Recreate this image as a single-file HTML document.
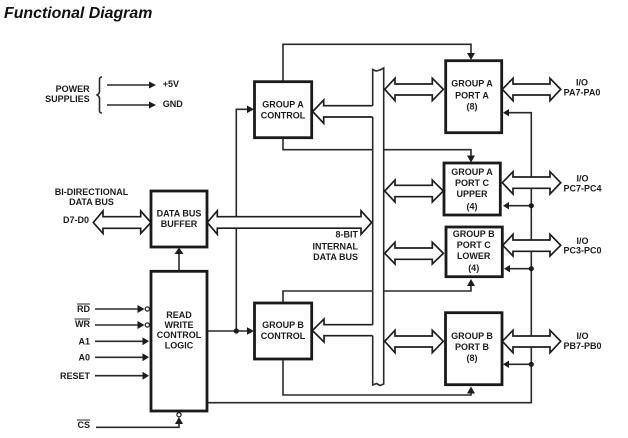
<!DOCTYPE html>
<html>
<head>
<meta charset="utf-8">
<title>Functional Diagram</title>
<style>
html,body{margin:0;padding:0;background:#fff;width:628px;height:438px;overflow:hidden}
svg{display:block}
text{font-family:"Liberation Sans",Arial,sans-serif;font-weight:bold;font-size:9px;fill:#1c1c1c}
.m{text-anchor:middle}
.e{text-anchor:end}
.t{font-size:15.9px;font-style:italic;fill:#111}
.l{fill:none;stroke:#2a2a2a;stroke-width:1.6}
.o{fill:none;stroke:#2a2a2a;stroke-width:1}
.b{fill:#fff;stroke:#1a1a1a;stroke-width:2.8}
.a{fill:#fff;stroke:#1e1e1e;stroke-width:1.7;stroke-linejoin:miter}
.h{fill:#1c1c1c}
.c{fill:#fff;stroke:#1c1c1c;stroke-width:1.2}
</style>
</head>
<body>
<svg width="628" height="438" viewBox="0 0 628 438" xmlns="http://www.w3.org/2000/svg">
<text class="t" x="4" y="18">Functional Diagram</text>

<!-- connector lines -->
<path class="l" d="M283 81V44.3H471V55"/>
<path class="l" d="M283 138V149.7H471V157"/>
<path class="l" d="M283 303V291H471V284"/>
<path class="l" d="M283 359V395H471V392"/>
<path class="l" d="M248 109.3H236.3V331"/>
<path class="l" d="M207 331H248"/>
<path class="l" d="M207 402.7H531.3V112.7H508"/>
<path class="l" d="M531.3 205.7H508M531.3 268.7H508M531.3 364.3H508"/>
<path class="l" d="M179 271V252"/>
<path class="l" d="M107 85H150M107 105H150"/>
<path class="l" d="M95 309H139M95 325H139M95 341.3H143M95 357.3H143M95 375.7H143"/>
<path class="l" d="M96 427.3H179V423"/>
<path class="l" d="M102 77C99 77 99.5 79 99.5 84V91C99.5 93.5 98.5 94.5 96.5 95C98.5 95.5 99.5 96.5 99.5 99V107C99.5 111 99 113 102 113"/>

<!-- arrowheads -->
<path class="h" d="M156 85L149 81.5V88.5Z"/>
<path class="h" d="M156 105L149 101.5V108.5Z"/>
<path class="h" d="M144.500 309L137.500 305V313Z"/>
<path class="h" d="M144.500 325L137.500 321V329Z"/>
<path class="h" d="M149 341.3L142.500 337.3V345.3Z"/>
<path class="h" d="M149 357.3L142.500 353.3V361.3Z"/>
<path class="h" d="M149 375.7L142.500 371.7V379.7Z"/>
<path class="h" d="M179 417L175 424H183Z"/>
<path class="h" d="M179 247.500L174.500 254H183.500Z"/>
<path class="h" d="M254 109.3L247 105.5V113.1Z"/>
<path class="h" d="M254 331L247 327.2V334.8Z"/>
<path class="h" d="M471 60L467 53H475Z"/>
<path class="h" d="M471 162.500L467 155.500H475Z"/>
<path class="h" d="M471 279L467 286H475Z"/>
<path class="h" d="M471 386.500L467 393.500H475Z"/>
<path class="h" d="M503 112.7L509 109V116.400Z"/>
<path class="h" d="M503 205.7L509 202V209.400Z"/>
<path class="h" d="M504 268.7L510 265V272.400Z"/>
<path class="h" d="M503 364.3L509 360.600V368Z"/>
<circle class="h" cx="236.3" cy="331" r="2.600"/>
<circle class="h" cx="531.3" cy="205.7" r="2.600"/>
<circle class="h" cx="531.3" cy="268.7" r="2.600"/>
<circle class="h" cx="531.3" cy="364.3" r="2.600"/>
<circle class="c" cx="147.3" cy="309" r="2.100"/>
<circle class="c" cx="147.3" cy="325" r="2.100"/>
<circle class="c" cx="179" cy="414.7" r="2.100"/>

<!-- internal bus -->
<path d="M372.7 69.5L376 71L380 70L383.7 68V384L380 385.5L376.5 383.5L372.7 385Z" fill="#fff" stroke="none"/>
<path class="l" d="M372.7 105.7V69.5L376 71L380 70L383.7 68V384L380 385.5L376.5 383.5L372.7 385V335.7M372.7 324.7V117"/>

<!-- bus stubs to control -->
<path class="a" d="M372.7 105.7H323.7V100L312.7 111.5L323.7 123.3V117H372.7"/>
<path class="a" d="M372.7 324.7H324V319L312.4 330.5L324 342V335.7H372.7"/>

<!-- double arrows -->
<path class="a" d="M207.3 222.5L217.3 210.8V216.7H361V210.8L371.7 222.5L361 234.3V228.2H217.3V234.3Z"/>
<path class="a" d="M93.3 222.5L103 211V216.7H140.7V211L151 222.5L140.7 233.5V228.3H103V233.5Z"/>

<path class="a" d="M384.7 89.3L395 78.3V84H432.3V78.3L443.3 89.3L432.3 100.7V95H395V100.7Z"/>
<path class="a" d="M384.7 191L395 180V185.3H432.3V180L443.3 191L432.3 202V196.7H395V202Z"/>
<path class="a" d="M384.7 253.3L395 242.3V248H432.3V242.3L443.3 253.3L432.3 264V259.3H395V264Z"/>
<path class="a" d="M384.7 341.3L395 330.3V336H432.3V330.3L443.3 341.3L432.3 352.7V347H395V352.7Z"/>

<path class="a" d="M502.3 89.3L513 78.3V84H550V78.3L560.7 89.3L550 100.7V95H513V100.7Z"/>
<path class="a" d="M502.3 182.7L513 171.7V177H550V171.7L560.7 182.7L550 194V188.3H513V194Z"/>
<path class="a" d="M502.8 245.3L513 234.3V240H550V234.3L560.7 245.3L550 256V251.3H513V256Z"/>
<path class="a" d="M502.3 341.3L513 330.3V336H550V330.3L560.7 341.3L550 352.7V347H513V352.7Z"/>

<!-- boxes -->
<rect class="b" x="254.5" y="81.7" width="57.2" height="56"/>
<rect class="b" x="254.5" y="303" width="57.2" height="56"/>
<rect class="b" x="151" y="191" width="56" height="56"/>
<rect class="b" x="151" y="271.3" width="56" height="139.7"/>
<rect class="b" x="445.7" y="60.7" width="56" height="72"/>
<rect class="b" x="444" y="163" width="56.3" height="52"/>
<rect class="b" x="446" y="227" width="56.3" height="49.7"/>
<rect class="b" x="445.5" y="312.7" width="56.5" height="72"/>

<!-- labels -->
<text class="e" x="89.7" y="92">POWER</text>
<text class="e" x="89.7" y="102">SUPPLIES</text>
<text x="162.7" y="87">+5V</text>
<text x="162.7" y="107">GND</text>

<text class="m" x="91.5" y="195">BI-DIRECTIONAL</text>
<text class="m" x="91.5" y="205">DATA BUS</text>
<text class="e" x="89" y="223">D7-D0</text>

<text class="m" x="179" y="216.3">DATA BUS</text>
<text class="m" x="179" y="227">BUFFER</text>

<text class="m" x="179" y="318">READ</text>
<text class="m" x="179" y="328">WRITE</text>
<text class="m" x="179" y="338">CONTROL</text>
<text class="m" x="179" y="348.7">LOGIC</text>

<text class="e" x="90" y="312">RD</text>
<path class="o" d="M77 304H90"/>
<text class="e" x="90" y="327">WR</text>
<path class="o" d="M74.5 319H90"/>
<text class="e" x="90" y="344.3">A1</text>
<text class="e" x="90" y="360.3">A0</text>
<text class="e" x="90" y="379">RESET</text>
<text class="e" x="90" y="428">CS</text>
<path class="o" d="M77 420H90"/>

<text class="m" x="283" y="107.3">GROUP A</text>
<text class="m" x="283" y="118.3">CONTROL</text>
<text class="m" x="283" y="328">GROUP B</text>
<text class="m" x="283" y="339">CONTROL</text>

<text class="e" x="358" y="237.3">8-BIT</text>
<text class="e" x="358" y="249.3">INTERNAL</text>
<text class="e" x="358" y="260">DATA BUS</text>

<text class="m" x="472" y="86.7">GROUP A</text>
<text class="m" x="472" y="98.3">PORT A</text>
<text class="m" x="472" y="109.3">(8)</text>

<text class="m" x="472" y="175">GROUP A</text>
<text class="m" x="472" y="186">PORT C</text>
<text class="m" x="472" y="197">UPPER</text>
<text class="m" x="472" y="209.3">(4)</text>

<text class="m" x="473.7" y="237">GROUP B</text>
<text class="m" x="473.7" y="248">PORT C</text>
<text class="m" x="473.7" y="259">LOWER</text>
<text class="m" x="473.7" y="271">(4)</text>

<text class="m" x="472" y="339">GROUP B</text>
<text class="m" x="472" y="350">PORT B</text>
<text class="m" x="472" y="361">(8)</text>

<text class="m" x="582" y="85.7">I/O</text>
<text class="m" x="582" y="95.3">PA7-PA0</text>
<text class="m" x="582.5" y="181.7">I/O</text>
<text class="m" x="582.5" y="191.7">PC7-PC4</text>
<text class="m" x="582.5" y="244">I/O</text>
<text class="m" x="582.5" y="253.7">PC3-PC0</text>
<text class="m" x="582.5" y="339">I/O</text>
<text class="m" x="582.5" y="349">PB7-PB0</text>
</svg>
</body>
</html>
